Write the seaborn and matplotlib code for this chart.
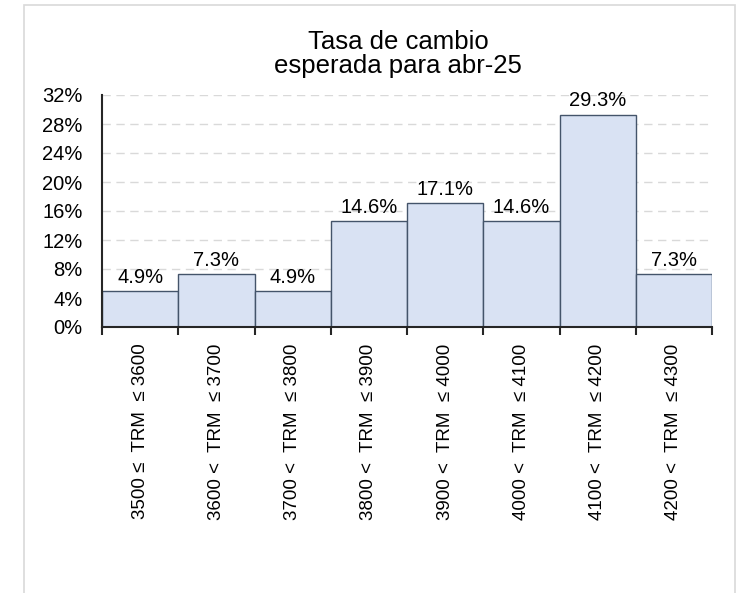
import pandas as pd
import matplotlib.pyplot as plt
import seaborn as sns
from matplotlib.patches import Rectangle
from matplotlib.ticker import FixedLocator, PercentFormatter

# datos: distribucion de la tasa de cambio esperada
lower = [3500, 3600, 3700, 3800, 3900, 4000, 4100, 4200]
upper = [3600, 3700, 3800, 3900, 4000, 4100, 4200, 4300]
share = [4.9, 7.3, 4.9, 14.6, 17.1, 14.6, 29.3, 7.3]
y_ticks = [0, 4, 8, 12, 16, 20, 24, 28, 32]
title = "Tasa de cambio\nesperada para abr-25"

labels = []
for i, (lo, hi) in enumerate(zip(lower, upper)):
    op = "≤" if i == 0 else "<"
    labels.append(f"{lo} {op}  TRM  ≤ {hi}")

df = pd.DataFrame({"rango": labels, "pct": share})

sns.set_style("white")
plt.rcParams["font.family"] = ["Liberation Sans", "DejaVu Sans"]
plt.rcParams["text.color"] = "black"

fig = plt.figure(figsize=(7.46, 5.93), dpi=100)
ax = fig.add_axes([102 / 746, 1 - 327 / 593, 610 / 746, 232 / 593])

sns.barplot(data=df, x="rango", y="pct", order=labels, color="#D9E2F3",
            edgecolor="#44546A", linewidth=1.0, width=1.0, saturation=1,
            ax=ax, zorder=2)

ax.set_xlim(-0.5, len(labels) - 0.5)
ax.set_ylim(0, 32)
ax.set_yticks(y_ticks)
ax.yaxis.set_major_formatter(PercentFormatter(decimals=0))
ax.tick_params(axis="y", length=0, labelsize=14.5, pad=14, labelcolor="black")

# ticks en los limites de las barras, etiquetas centradas
ax.xaxis.set_major_locator(FixedLocator([i - 0.5 for i in range(len(labels) + 1)]))
ax.xaxis.set_minor_locator(FixedLocator(list(range(len(labels)))))
ax.set_xticklabels([], minor=False)
ax.set_xticklabels(labels, minor=True, rotation=90, fontsize=13.5, va="top")
ax.tick_params(axis="x", which="major", bottom=True, direction="out", length=6,
               width=1.5, color="#262626")
ax.tick_params(axis="x", which="minor", bottom=True, length=0, pad=12,
               labelcolor="black")
ax.set_xlabel("")
ax.set_ylabel("")

ax.yaxis.grid(True, linestyle=(0, (6, 4)), color="#D9D9D9", linewidth=1, zorder=0)
ax.set_axisbelow(True)
for side in ["top", "right"]:
    ax.spines[side].set_visible(False)
for side in ["left", "bottom"]:
    ax.spines[side].set_color("#262626")
    ax.spines[side].set_linewidth(1.5)
    ax.spines[side].set_zorder(3)

for c in ax.containers:
    ax.bar_label(c, labels=[f"{v:.1f}%" for v in share], padding=3,
                 fontsize=14.5, color="black")

fig.text(398 / 746, 1 - 54 / 593, title, ha="center", va="center",
         fontsize=18.5, linespacing=1.0, color="black")

fig.patches.append(Rectangle((24 / 746, -0.01), 711 / 746, 1 - 5 / 593 + 0.01,
                             transform=fig.transFigure, fill=False,
                             edgecolor="#D9D9D9", linewidth=1.2))

fig.savefig("out.png", dpi=100)
